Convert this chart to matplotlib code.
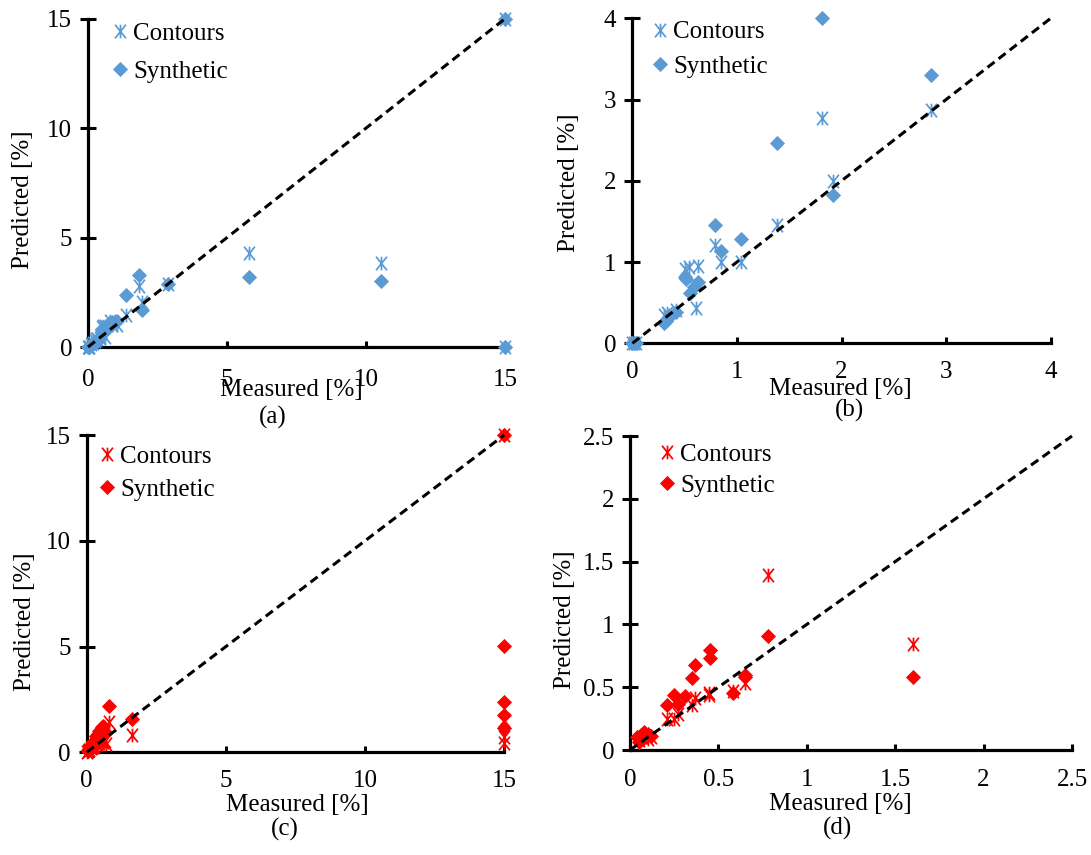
import matplotlib
matplotlib.use("Agg")
import matplotlib.pyplot as plt
from matplotlib.path import Path
from matplotlib.lines import Line2D
from matplotlib.ticker import FuncFormatter

plt.rcParams['font.family'] = ['Liberation Serif', 'DejaVu Serif']

# ---------------- data ----------------
# (a) full range, blue series
a_cont_x = [0.00, 0.02, 0.04, 0.10, 0.18, 0.25, 0.30, 0.33, 0.42, 0.50, 0.55, 0.62, 0.61,
            0.79, 0.85, 1.04, 1.38, 1.83, 1.94, 2.87, 5.78, 10.53, 15.0, 15.0]
a_cont_y = [0.00, 0.00, 0.00, 0.12, 0.20, 0.28, 0.35, 0.37, 0.41, 0.92, 0.94, 0.95, 0.44,
            1.21, 1.00, 1.00, 1.46, 2.78, 2.04, 2.88, 4.31, 3.86, 15.0, 0.00]
a_syn_x = [0.00, 0.02, 0.04, 0.12, 0.20, 0.30, 0.32, 0.34, 0.42, 0.50, 0.51, 0.55, 0.59,
           0.62, 0.79, 0.85, 1.04, 1.38, 1.83, 1.94, 2.87, 5.78, 10.53, 15.0, 15.0]
a_syn_y = [0.00, 0.00, 0.00, 0.10, 0.18, 0.25, 0.28, 0.31, 0.39, 0.82, 0.79, 0.62, 0.69,
           0.76, 1.12, 1.14, 1.20, 2.38, 3.29, 1.70, 2.88, 3.20, 3.02, 15.0, 0.00]

# (b) low range, blue series
b_cont_x = [0.00, 0.02, 0.04, 0.30, 0.33, 0.42, 0.50, 0.545, 0.625, 0.61, 0.79, 0.845,
            1.04, 1.38, 1.81, 1.92, 2.86]
b_cont_y = [0.00, 0.00, 0.00, 0.35, 0.37, 0.41, 0.92, 0.94, 0.95, 0.44, 1.21, 1.00,
            1.00, 1.46, 2.77, 2.00, 2.87]
b_syn_x = [0.00, 0.02, 0.04, 0.30, 0.32, 0.34, 0.42, 0.50, 0.51, 0.55, 0.59, 0.625,
           0.79, 0.845, 1.04, 1.38, 1.81, 1.92, 2.86]
b_syn_y = [0.00, 0.00, 0.00, 0.245, 0.28, 0.31, 0.39, 0.82, 0.79, 0.62, 0.69, 0.76,
           1.46, 1.14, 1.28, 2.47, 4.00, 1.83, 3.30]

# (c) full range, red series
c_cont_x = [0.02, 0.05, 0.08, 0.10, 0.15, 0.20, 0.22, 0.26, 0.33, 0.36, 0.45, 0.50, 0.58,
            0.65, 0.70, 0.81, 1.62, 15.0, 15.0, 15.0, 15.0]
c_cont_y = [0.03, 0.08, 0.10, 0.12, 0.20, 0.25, 0.26, 0.30, 0.38, 0.40, 0.45, 0.60, 0.47,
            0.55, 0.40, 1.41, 0.83, 15.0, 1.53, 0.74, 0.43]
c_syn_x = [0.03, 0.06, 0.10, 0.15, 0.20, 0.25, 0.30, 0.35, 0.40, 0.45, 0.50, 0.55, 0.60,
           0.65, 0.81, 1.62, 15.0, 15.0, 15.0, 15.0, 15.0]
c_syn_y = [0.05, 0.12, 0.15, 0.30, 0.40, 0.50, 0.60, 0.75, 0.85, 1.00, 1.10, 1.20, 1.25,
           0.95, 2.20, 1.57, 15.0, 5.04, 2.39, 1.76, 1.13]

# (d) low range, red series
d_cont_x = [0.05, 0.07, 0.10, 0.12, 0.21, 0.25, 0.27, 0.35, 0.37, 0.445, 0.445, 0.58,
            0.65, 0.78, 1.60]
d_cont_y = [0.08, 0.10, 0.09, 0.10, 0.25, 0.25, 0.29, 0.36, 0.415, 0.45, 0.435, 0.47,
            0.53, 1.39, 0.84]
d_syn_x = [0.04, 0.05, 0.06, 0.08, 0.10, 0.12, 0.21, 0.25, 0.27, 0.31, 0.35, 0.37,
           0.45, 0.45, 0.58, 0.65, 0.65, 0.78, 1.60]
d_syn_y = [0.10, 0.06, 0.12, 0.14, 0.13, 0.11, 0.36, 0.44, 0.37, 0.43, 0.57, 0.68,
           0.73, 0.80, 0.45, 0.58, 0.60, 0.91, 0.58]

series_labels = ["Contours", "Synthetic"]
captions = ["(a)", "(b)", "(c)", "(d)"]
x_title = "Measured [%]"
y_title = "Predicted [%]"

BLUE = "#5B9BD5"
RED = "#FF0000"

# ---------------- figure ----------------
W, H = 1091, 855
fig = plt.figure(figsize=(W / 100, H / 100), dpi=100)


def px_axes(x0, y0, x1, y1):
    """Axes from pixel corners: (x0, y0) = data origin, (x1, y1) = top-right."""
    return fig.add_axes([x0 / W, (H - y0) / H, (x1 - x0) / W, (y0 - y1) / H])


def fig_px(x, y):
    return x / W, (H - y) / H


# asterisk marker: an X crossed by a vertical stroke
star = Path([(-0.8, -1), (0.8, 1), (-0.8, 1), (0.8, -1), (0, -1), (0, 1)],
            [Path.MOVETO, Path.LINETO, Path.MOVETO, Path.LINETO, Path.MOVETO, Path.LINETO])

FS = 18
STAR_MS, STAR_MEW = 9.8, 1.25
DIA_MS, DIA_MEW = 6.9, 0.6


def fmt(v, _):
    return f"{v:g}"


def panel(rect, lim, ticks, cx, cy, sx, sy, color, leg_xy, leg_gap, xpad, caption, cap_xy,
          xl_xy, yl_xy):
    ax = px_axes(*rect)
    ax.set_xlim(0, lim)
    ax.set_ylim(0, lim)
    ax.set_xticks(ticks)
    ax.set_yticks(ticks)
    ax.xaxis.set_major_formatter(FuncFormatter(fmt))
    ax.yaxis.set_major_formatter(FuncFormatter(fmt))
    for s in ("top", "right"):
        ax.spines[s].set_visible(False)
    for s in ("left", "bottom"):
        ax.spines[s].set_linewidth(2.3)
        ax.spines[s].set_capstyle("projecting")
    ax.tick_params(axis="y", direction="inout", length=11, width=2.2, labelsize=FS, pad=6)
    ax.tick_params(axis="x", direction="in", length=4.5, width=2.2, labelsize=FS, pad=xpad)
    ax.patch.set_alpha(0)

    ax.plot(sx, sy, linestyle="none", marker="D", ms=DIA_MS, mfc=color, mec=color,
            mew=DIA_MEW, clip_on=False, zorder=3)
    ax.plot(cx, cy, linestyle="none", marker=star, ms=STAR_MS, mfc="none", mec=color,
            mew=STAR_MEW, clip_on=False, zorder=3)
    ax.plot([0, lim], [0, lim], linestyle="--", color="black", lw=2.2,
            dashes=(2.9, 1.7), zorder=4, clip_on=False)

    h1 = Line2D([], [], linestyle="none", marker=star, ms=STAR_MS, mfc="none", mec=color,
                mew=STAR_MEW)
    h2 = Line2D([], [], linestyle="none", marker="D", ms=DIA_MS, mfc=color, mec=color,
                mew=DIA_MEW)
    ax.legend([h1, h2], series_labels, loc="upper left", frameon=False,
              bbox_to_anchor=fig_px(*leg_xy), bbox_transform=fig.transFigure,
              fontsize=FS, borderpad=0, borderaxespad=0, handlelength=0.6,
              handletextpad=0.25, labelspacing=leg_gap)

    fig.text(*fig_px(*xl_xy), x_title, fontsize=FS, ha="center", va="center")
    fig.text(*fig_px(*yl_xy), y_title, fontsize=FS, ha="center", va="center",
             rotation=90)
    fig.text(*fig_px(*cap_xy), caption, fontsize=FS, ha="center", va="center")
    return ax


panel((88, 347, 505, 18.7), 15, [0, 5, 10, 15], a_cont_x, a_cont_y, a_syn_x, a_syn_y,
      BLUE, (112, 22), 0.63, 16, captions[0], (273, 417), (291, 390), (23, 200))
panel((632.3, 343.3, 1050.7, 18.3), 4, [0, 1, 2, 3, 4], b_cont_x, b_cont_y, b_syn_x, b_syn_y,
      BLUE, (652, 21), 0.46, 13, captions[1], (849, 410), (840, 389), (569, 183))
panel((86.7, 752.3, 504.3, 435), 15, [0, 5, 10, 15], c_cont_x, c_cont_y, c_syn_x, c_syn_y,
      RED, (99, 445), 0.42, 13, captions[2], (285, 829), (297, 805), (25, 622))
panel((630, 750, 1072, 436), 2.5, [0, 0.5, 1, 1.5, 2, 2.5], d_cont_x, d_cont_y, d_syn_x,
      d_syn_y, RED, (659, 443), 0.34, 14, captions[3], (838, 828), (840, 804), (565, 620))

fig.savefig("out.png", dpi=100)
